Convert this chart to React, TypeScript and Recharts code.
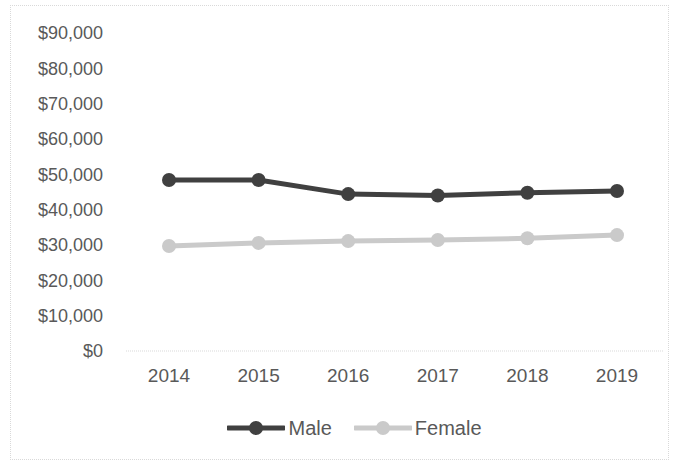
import React from 'react';
import { LineChart, Line, XAxis, YAxis, Legend } from 'recharts';

const years = ['2014', '2015', '2016', '2017', '2018', '2019'];
const male = [48400, 48400, 44400, 44000, 44800, 45300];
const female = [29700, 30600, 31100, 31400, 31900, 32800];
const yTicks = [0, 10000, 20000, 30000, 40000, 50000, 60000, 70000, 80000, 90000];

const MALE_COLOR = '#404040';
const FEMALE_COLOR = '#cacaca';
const TEXT_COLOR = '#595959';
const FONT = '"Liberation Sans", Arial, sans-serif';

const data = years.map((y, i) => ({ year: y, Male: male[i], Female: female[i] }));

const fmt = (v: number) => '$' + v.toLocaleString('en-US');

const LegendItem = ({ color, label, r }: { color: string; label: string; r: number }) => (
  <div style={{ display: 'flex', alignItems: 'center', marginRight: 22 }}>
    <svg width={58} height={18}>
      <line x1={1} y1={9} x2={57} y2={9} stroke={color} strokeWidth={5} strokeLinecap="round" />
      <circle cx={29} cy={9} r={r} fill={color} />
    </svg>
    <span style={{ marginLeft: 3, fontSize: 20, lineHeight: '24px', color: TEXT_COLOR, fontFamily: FONT }}>{label}</span>
  </div>
);

const renderLegend = () => (
  <div style={{ display: 'flex', justifyContent: 'center', width: 677, height: 24, paddingLeft: 54, boxSizing: 'border-box' }}>
    <LegendItem color={MALE_COLOR} label="Male" r={7} />
    <LegendItem color={FEMALE_COLOR} label="Female" r={7} />
  </div>
);

export default function App() {
  return (
    <div style={{ position: 'absolute', left: 0, top: 0, width: 677, height: 464, background: '#fff' }}>
      <div
        style={{
          position: 'absolute',
          left: 10,
          top: 5,
          width: 659,
          height: 455,
          border: '1px dotted #d9d9d9',
          boxSizing: 'border-box',
        }}
      />
      <LineChart
        width={677}
        height={464}
        data={data}
        margin={{ top: 33, right: 14, bottom: 0, left: 0 }}
        style={{ fontFamily: FONT }}
      >
        <XAxis
          dataKey="year"
          height={89}
          tickLine={false}
          tickSize={0}
          tickMargin={18}
          axisLine={{ stroke: '#d9d9d9', strokeDasharray: '1 1' }}
          tick={{ fill: TEXT_COLOR, fontSize: 19, fontFamily: FONT }}
          padding={{ left: 43, right: 46 }}
          interval={0}
        />
        <YAxis
          width={126}
          domain={[0, 90000]}
          ticks={yTicks}
          tickFormatter={fmt}
          axisLine={false}
          tickLine={false}
          tickSize={0}
          tickMargin={23}
          tick={{ fill: TEXT_COLOR, fontSize: 18, fontFamily: FONT }}
          interval={0}
        />
        <Legend
          content={renderLegend}
          wrapperStyle={{ position: 'absolute', top: 416, left: 0, width: 677, height: 24 }}
        />
        <Line
          dataKey="Male"
          stroke={MALE_COLOR}
          strokeWidth={5}
          dot={{ r: 7, fill: MALE_COLOR, stroke: MALE_COLOR, strokeWidth: 0 }}
          isAnimationActive={false}
        />
        <Line
          dataKey="Female"
          stroke={FEMALE_COLOR}
          strokeWidth={5}
          dot={{ r: 7, fill: FEMALE_COLOR, stroke: FEMALE_COLOR, strokeWidth: 0 }}
          isAnimationActive={false}
        />
      </LineChart>
    </div>
  );
}
